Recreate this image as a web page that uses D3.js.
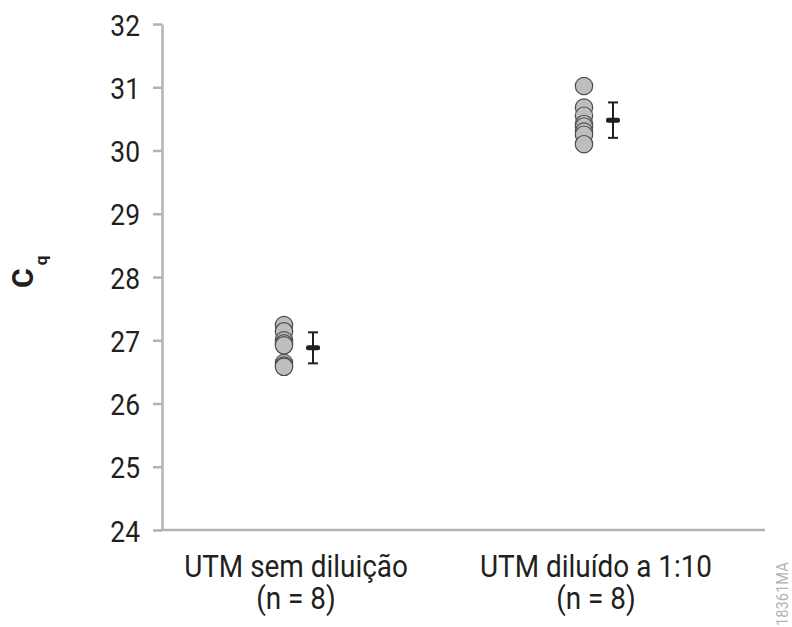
<!DOCTYPE html>
<html>
<head>
<meta charset="utf-8">
<script src="https://cdn.jsdelivr.net/npm/d3@7/dist/d3.min.js"></script>
<style>
  html, body { margin: 0; padding: 0; background: #ffffff; }
  svg { display: block; }
  text { font-family: Roboto, "Noto Sans", sans-serif; fill: #231f20; }
</style>
</head>
<body>
<svg id="chart" width="792" height="627"></svg>
<script>
// Sample groups shown on the x axis
const categories = ["UTM sem diluição", "UTM diluído a 1:10"];
const categorySubLabels = ["(n = 8)", "(n = 8)"];

// Individual Cq replicates for each group (n = 8)
const cqUndiluted = [27.24, 27.14, 27.00, 26.95, 26.92, 26.64, 26.60, 26.58];
const cqDiluted   = [31.02, 30.68, 30.55, 30.42, 30.38, 30.30, 30.25, 30.10];

// Group mean and standard deviation (error bars)
const groupMeans = [26.88, 30.48];
const groupSDs   = [0.245, 0.28];

// Y axis ticks
const yTicks = [24, 25, 26, 27, 28, 29, 30, 31, 32];

const replicates = [cqUndiluted, cqDiluted];

const svg = d3.select("#chart");
const axisColor = "#b3b3b3";

const y = d3.scaleLinear().domain([24, 32]).range([530, 24]);
const x = d3.scalePoint().domain(categories).range([298, 598]);
const axisLeftX = 162, axisRightX = 765;

// Y axis
const yAxis = svg.append("g")
  .attr("transform", `translate(${axisLeftX},0)`)
  .call(d3.axisLeft(y).tickValues(yTicks).tickSize(9).tickSizeOuter(0).tickFormat(d3.format("d")));
yAxis.select(".domain").attr("stroke", axisColor).attr("stroke-width", 2.5);
yAxis.selectAll(".tick line").attr("stroke", axisColor).attr("stroke-width", 2.5);
yAxis.selectAll(".tick text")
  .attr("x", null).attr("dy", null)
  .attr("text-anchor", "end")
  .attr("dominant-baseline", "central")
  .attr("transform", "translate(-22,1) scale(0.88,1)")
  .style("font-size", "30px")
  .style("font-family", "Roboto, sans-serif")
  .attr("fill", "#231f20");

// X axis baseline
svg.append("line")
  .attr("x1", axisLeftX - 1.25).attr("x2", axisRightX)
  .attr("y1", y(24)).attr("y2", y(24))
  .attr("stroke", axisColor).attr("stroke-width", 2.5);

// Category labels (two lines each, one text element per category)
const labels = svg.append("g");
categories.forEach((c, i) => {
  const t = labels.append("text")
    .attr("transform", `translate(${x(c) - 2},577) scale(0.9,1)`)
    .attr("text-anchor", "middle")
    .style("font-size", "31px");
  t.append("tspan").attr("x", 0).attr("y", 0).text(c);
  t.append("tspan").attr("x", 0).attr("y", 32).text(categorySubLabels[i]);
});

// Y axis title: C with subscript q
const yTitle = svg.append("text")
  .attr("transform", "translate(33,288) rotate(-90)")
  .attr("text-anchor", "start");
yTitle.append("tspan").style("font-size", "30px").style("font-weight", "bold").text("C");
yTitle.append("tspan").attr("dx", 3).attr("dy", 14).style("font-size", "17px").style("font-weight", "bold").text("q");

// Replicate points
const pointOffset = -14;
categories.forEach((c, i) => {
  svg.append("g").selectAll("circle")
    .data(replicates[i].slice().sort((a, b) => b - a))
    .join("circle")
    .attr("cx", x(c) + pointOffset)
    .attr("cy", d => y(d))
    .attr("r", 8.7)
    .attr("fill", "#bcbec0")
    .attr("stroke", "#4d4d4d")
    .attr("stroke-width", 1.2);
});

// Mean ± SD markers
const barOffset = 15;
categories.forEach((c, i) => {
  const cx = x(c) + barOffset;
  const m = groupMeans[i], s = groupSDs[i];
  const g = svg.append("g").attr("stroke", "#231f20").attr("stroke-width", 2);
  g.append("line").attr("x1", cx).attr("x2", cx).attr("y1", y(m + s)).attr("y2", y(m - s));
  g.append("line").attr("x1", cx - 5).attr("x2", cx + 5).attr("y1", y(m + s)).attr("y2", y(m + s));
  g.append("line").attr("x1", cx - 5).attr("x2", cx + 5).attr("y1", y(m - s)).attr("y2", y(m - s));
  svg.append("rect")
    .attr("x", cx - 7).attr("y", y(m) - 2.5)
    .attr("width", 14).attr("height", 5)
    .attr("rx", 2)
    .attr("fill", "#231f20");
});

// Figure code
svg.append("text")
  .attr("transform", "translate(788,626) rotate(-90) scale(0.92,1)")
  .attr("text-anchor", "start")
  .style("font-size", "16px")
  .style("fill", "#b1b3b6")
  .text("18361MA");
</script>
</body>
</html>
